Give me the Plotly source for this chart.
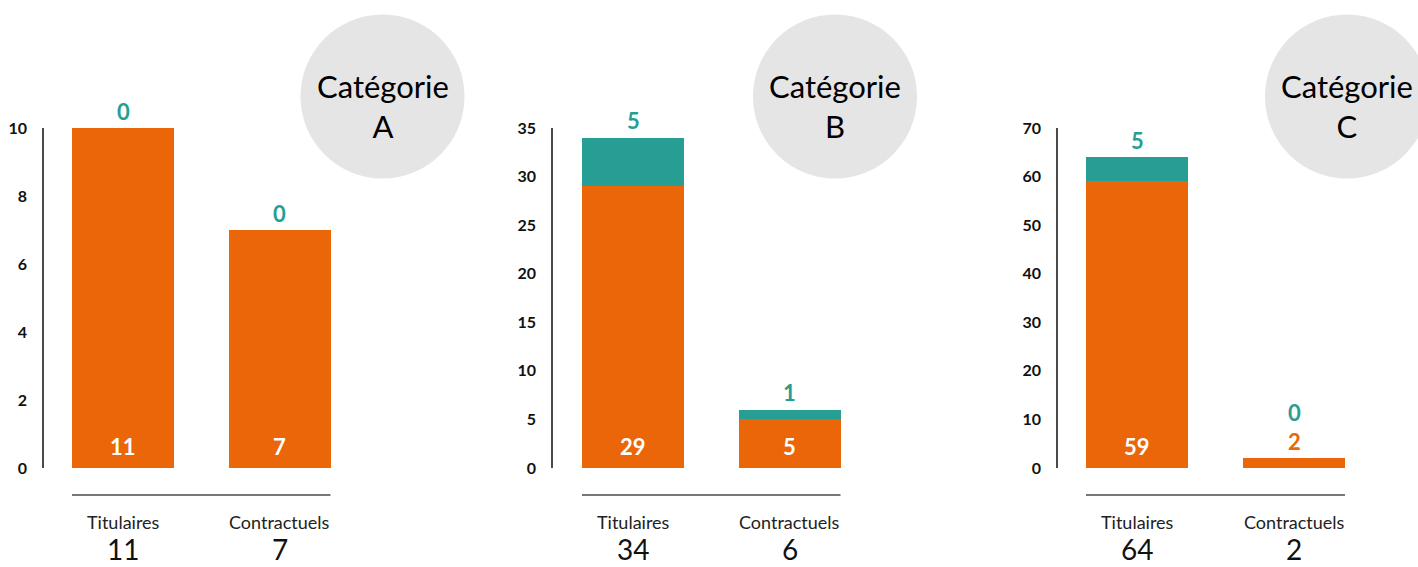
import plotly.graph_objects as go

# --- data ---------------------------------------------------------------
groups = ["A", "B", "C"]
statuts = ["Titulaires", "Contractuels"]
hors_mobilite = {          # orange segment (bottom)
    "A": [11, 7],
    "B": [29, 5],
    "C": [59, 2],
}
mobilite = {               # teal segment (top)
    "A": [0, 0],
    "B": [5, 1],
    "C": [5, 0],
}
axis_max = {"A": 10, "B": 35, "C": 70}
axis_step = {"A": 2, "B": 5, "C": 10}

# --- styling / layout ---------------------------------------------------
W, H = 1418, 567
ORANGE = "#EB6608"
TEAL = "#279E94"
CIRCLE = "#E5E5E5"
AXIS = "#4a4a4a"
FONT = "Lato"

# pixel placement of each panel: y-axis line, centres of the two bars, circle centre
panels = {
    "A": dict(axis_x=44, c0=123, c1=279.5, circle=(382.5, 96.5)),
    "B": dict(axis_x=553, c0=633, c1=789.5, circle=(835, 96.5)),
    "C": dict(axis_x=1058, c0=1137, c1=1294, circle=(1347, 96.5)),
}
PLOT_TOP, PLOT_BOTTOM = 128, 468
BAR_PX = 102
R = 82


def px(x):
    return x / W


def py(y):
    return 1 - y / H


fig = go.Figure()
annotations = []
shapes = []

for i, g in enumerate(groups):
    p = panels[g]
    step_px = p["c1"] - p["c0"]
    right_px = p["c1"] + 80
    xr = [-(p["c0"] - p["axis_x"]) / step_px, (right_px - p["c0"]) / step_px]
    width = BAR_PX / step_px
    sfx = "" if i == 0 else str(i + 1)
    xa, ya = "x" + sfx, "y" + sfx

    fig.add_trace(go.Bar(x=[0, 1], y=hors_mobilite[g], width=width,
                         marker=dict(color=ORANGE, line=dict(width=0)),
                         xaxis=xa, yaxis=ya, hoverinfo="skip", showlegend=False))
    fig.add_trace(go.Bar(x=[0, 1], y=mobilite[g], width=width,
                         marker=dict(color=TEAL, line=dict(width=0)),
                         xaxis=xa, yaxis=ya, hoverinfo="skip", showlegend=False))

    fig.update_layout(**{
        "xaxis" + sfx: dict(domain=[px(p["axis_x"]), px(right_px)], range=xr,
                            visible=False, fixedrange=True, automargin=False),
        "yaxis" + sfx: dict(domain=[py(PLOT_BOTTOM), py(PLOT_TOP)],
                            range=[0, axis_max[g]], dtick=axis_step[g],
                            showline=True, linecolor=AXIS, linewidth=1.5,
                            showgrid=False, zeroline=False, ticks="",
                            ticklabelstandoff=12, automargin=False,
                            tickfont=dict(family=FONT, size=16, color="#111", weight="bold"),
                            anchor=xa, fixedrange=True),
    })

    unit_px = (PLOT_BOTTOM - PLOT_TOP) / axis_max[g]
    for j in range(2):
        o, t = hors_mobilite[g][j], mobilite[g][j]
        total = o + t
        top = min(total, axis_max[g])
        # orange value: inside the bar near its base, or above if too short
        if o * unit_px >= 40:
            annotations.append(dict(x=j, y=0, xref=xa, yref=ya, text=str(o),
                                    showarrow=False, yanchor="middle", yshift=22,
                                    font=dict(family=FONT, size=22, color="white", weight="bold")))
            extra = 0
        else:
            annotations.append(dict(x=j, y=top, xref=xa, yref=ya, text=str(o),
                                    showarrow=False, yanchor="middle", yshift=17,
                                    font=dict(family=FONT, size=22, color=ORANGE, weight="bold")))
            extra = 29
        # teal value above the stack
        annotations.append(dict(x=j, y=top, xref=xa, yref=ya, text=str(t),
                                showarrow=False, yanchor="middle", yshift=17 + extra,
                                font=dict(family=FONT, size=22, color=TEAL, weight="bold")))
        # status label and total below the baseline rule
        annotations.append(dict(x=j, y=py(522), xref=xa, yref="paper", text=statuts[j],
                                showarrow=False, yanchor="middle", borderpad=0,
                                font=dict(family=FONT, size=18, color="#222")))
        annotations.append(dict(x=j, y=0, xref=xa, yref="paper", text=str(total),
                                showarrow=False, yanchor="bottom", borderpad=0,
                                font=dict(family=FONT, size=28, color="#111")))

    # rule under the bars
    shapes.append(dict(type="line", xref=xa, yref="paper",
                       x0=-width / 2, x1=1 + width / 2, y0=py(495), y1=py(495),
                       line=dict(color=AXIS, width=1.5)))

    # category badge
    cx, cy = p["circle"]
    shapes.append(dict(type="circle", xref="paper", yref="paper", layer="below",
                       x0=px(cx - R), x1=px(cx + R), y0=py(cy + R), y1=py(cy - R),
                       fillcolor=CIRCLE, line=dict(width=0)))
    annotations.append(dict(x=px(cx), y=py(cy + 9), xref="paper", yref="paper",
                            text=f"Catégorie<br>{g}", showarrow=False,
                            xanchor="center", yanchor="middle", align="center",
                            font=dict(family=FONT, size=31, color="#000")))

fig.update_layout(
    width=W, height=H, barmode="stack", bargap=0,
    margin=dict(l=0, r=0, t=0, b=0, autoexpand=False),
    paper_bgcolor="white", plot_bgcolor="rgba(0,0,0,0)",
    annotations=annotations, shapes=shapes,
    font=dict(family=FONT),
)

fig.write_html("out.html", config={"displayModeBar": False})
